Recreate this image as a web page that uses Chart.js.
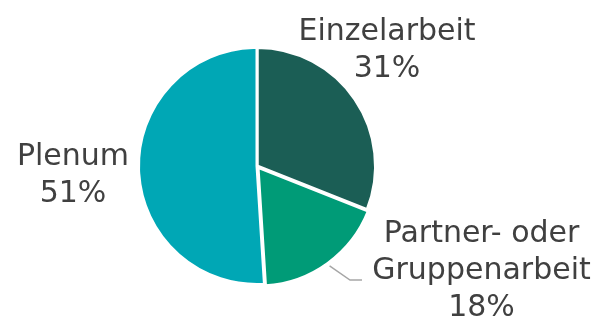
<!DOCTYPE html>
<html>
<head>
<meta charset="utf-8">
<script src="https://cdn.jsdelivr.net/npm/chart.js@4"></script>
<style>
  html, body { margin: 0; padding: 0; background: #ffffff; }
  #wrap { width: 603px; height: 322px; position: relative; }
</style>
</head>
<body>
<div id="wrap"><canvas id="chart"></canvas></div>
<script>
// Sozialformen im Unterricht (Anteile in %)
const categories = ['Einzelarbeit', 'Partner- oder Gruppenarbeit', 'Plenum'];
const labelLines = [['Einzelarbeit'], ['Partner- oder', 'Gruppenarbeit'], ['Plenum']];
const shares = [31, 18, 51];
const sliceColors = ['#1b5e55', '#009b77', '#00a7b5'];

// Label anchors relative to the pie centre: x = text centre, y = first baseline
const labelAnchors = [
  { dx: 130, dy: -126 },
  { dx: 224.5, dy: 75.5, leader: [{ dx: 93, dy: 114 }, { dx: 105, dy: 114 }] },
  { dx: -184, dy: -1 }
];
const lineGap = 37;

const pieLabels = {
  id: 'pieLabels',
  afterDatasetsDraw(chart) {
    const ctx = chart.ctx;
    const meta = chart.getDatasetMeta(0);
    const values = chart.data.datasets[0].data;
    ctx.save();
    meta.data.forEach((arc, i) => {
      const { x: cx, y: cy, startAngle, endAngle, outerRadius } =
        arc.getProps(['x', 'y', 'startAngle', 'endAngle', 'outerRadius'], true);
      const a = labelAnchors[i];
      const mid = (startAngle + endAngle) / 2;
      const off = arc.options.offset || 0;
      if (a.leader) {
        ctx.strokeStyle = '#a6a6a6';
        ctx.lineWidth = 1.5;
        ctx.beginPath();
        ctx.moveTo(cx + Math.cos(mid) * (outerRadius + off - 2), cy + Math.sin(mid) * (outerRadius + off - 2));
        a.leader.forEach(p => ctx.lineTo(cx + p.dx, cy + p.dy));
        ctx.stroke();
      }
      const lines = labelLines[i].concat([values[i] + '%']);
      ctx.fillStyle = '#404040';
      ctx.font = '30px "DejaVu Sans", Verdana, sans-serif';
      ctx.textAlign = 'center';
      ctx.textBaseline = 'alphabetic';
      lines.forEach((t, k) => ctx.fillText(t, cx + a.dx, cy + a.dy + k * lineGap));
    });
    ctx.restore();
  }
};

new Chart(document.getElementById('chart'), {
  type: 'pie',
  data: {
    labels: categories,
    datasets: [{
      data: shares,
      backgroundColor: sliceColors,
      borderColor: '#ffffff',
      borderWidth: 3,
      offset: [0, 7, 0]
    }]
  },
  options: {
    responsive: true,
    maintainAspectRatio: false,
    animation: false,
    radius: 118.5,
    layout: { padding: { left: 0, right: 89, top: 10, bottom: 0 } },
    plugins: {
      legend: { display: false },
      tooltip: { enabled: false }
    }
  },
  plugins: [pieLabels]
});
</script>
</body>
</html>
